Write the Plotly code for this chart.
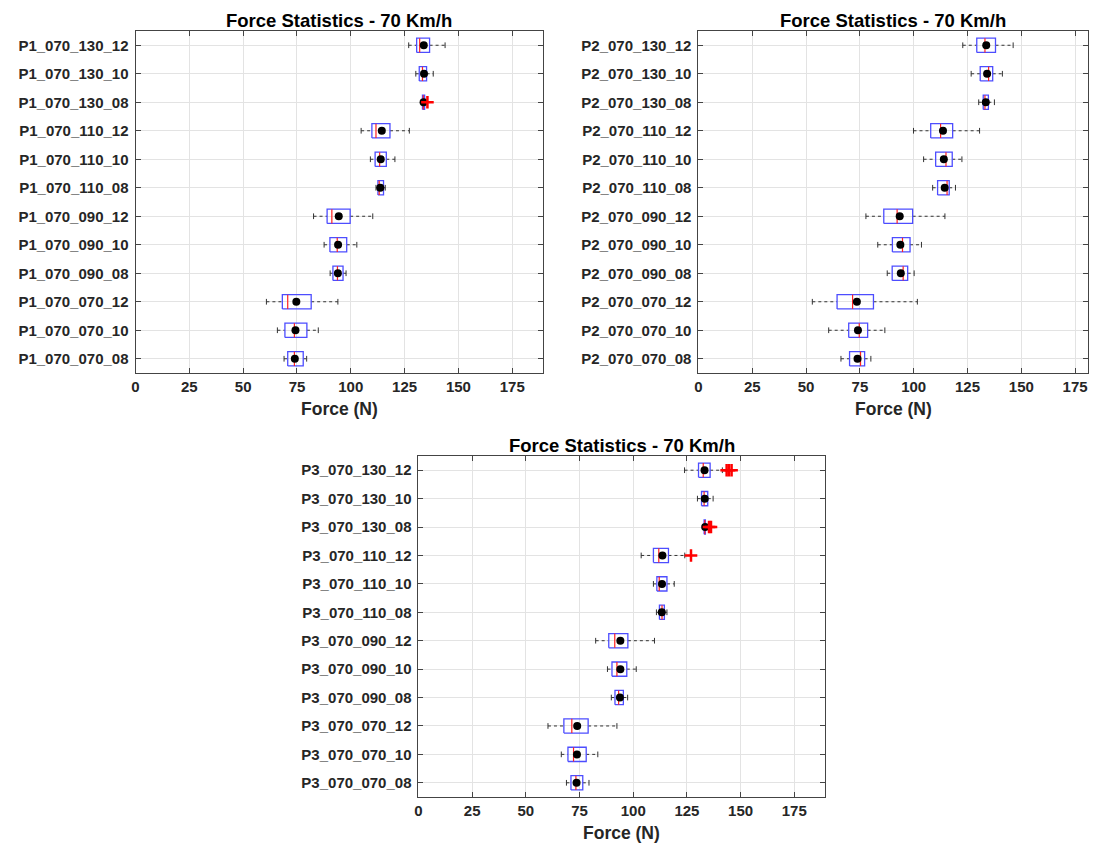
import plotly.graph_objects as go

# Categories, bottom to top
conditions = ["070_070_08", "070_070_10", "070_070_12",
              "070_090_08", "070_090_10", "070_090_12",
              "070_110_08", "070_110_10", "070_110_12",
              "070_130_08", "070_130_10", "070_130_12"]
x_ticks = [0, 25, 50, 75, 100, 125, 150, 175]

# ---- P1 ----
p1_low = [69.0, 65.9, 60.8, 90.4, 87.6, 82.7, 111.7, 109.1, 104.8, 133.1, 130.2, 126.9]
p1_q1 = [70.7, 69.4, 68.2, 91.7, 90.3, 89.0, 112.6, 111.3, 109.8, 133.3, 131.8, 130.6]
p1_med = [73.8, 73.8, 70.7, 93.8, 93.7, 91.2, 113.2, 113.4, 111.7, 133.7, 133.3, 132.0]
p1_q3 = [77.9, 79.6, 81.6, 96.4, 98.1, 99.7, 115.2, 116.5, 118.2, 134.3, 135.2, 136.6]
p1_high = [79.5, 84.9, 94.0, 97.8, 102.8, 110.2, 116.0, 120.5, 127.2, 134.5, 138.3, 143.8]
p1_mean = [74.0, 74.3, 74.7, 94.0, 94.1, 94.4, 113.7, 113.9, 114.4, 133.8, 134.0, 133.9]
p1_out = [[], [], [], [], [], [], [], [], [], [135.6], [], []]

# ---- P2 ----
p2_low = [66.2, 60.5, 52.9, 87.7, 83.3, 77.8, 108.8, 104.6, 99.9, 130.2, 126.7, 122.8]
p2_q1 = [70.2, 69.8, 64.4, 90.0, 90.1, 86.1, 111.1, 110.2, 107.9, 132.3, 130.9, 129.3]
p2_med = [75.3, 74.7, 71.6, 95.1, 94.8, 92.3, 115.5, 115.0, 112.5, 133.1, 134.8, 133.1]
p2_q3 = [77.2, 78.6, 81.3, 97.2, 98.3, 99.5, 116.5, 117.9, 118.1, 134.7, 136.7, 138.0]
p2_high = [80.1, 86.6, 101.7, 100.2, 103.6, 114.5, 119.4, 122.4, 130.6, 137.5, 141.2, 146.2]
p2_mean = [73.9, 74.1, 73.6, 94.0, 93.8, 93.5, 114.4, 114.0, 113.6, 133.5, 134.1, 133.7]
p2_out = [[], [], [], [], [], [], [], [], [], [], [], []]

# ---- P3 ----
p3_low = [68.9, 66.5, 60.3, 89.8, 88.0, 82.5, 110.8, 109.4, 103.7, 132.5, 129.9, 123.9]
p3_q1 = [71.0, 69.6, 67.7, 91.5, 90.1, 88.6, 112.2, 111.0, 109.4, 133.0, 131.8, 130.4]
p3_med = [73.3, 72.2, 71.4, 93.2, 92.4, 91.4, 113.4, 112.1, 111.9, 133.3, 133.0, 132.6]
p3_q3 = [76.5, 78.1, 79.0, 95.4, 97.0, 97.5, 114.5, 115.7, 116.4, 133.6, 134.7, 135.8]
p3_high = [79.4, 83.5, 92.4, 97.4, 101.4, 109.9, 115.7, 119.1, 124.0, 134.6, 137.2, 141.5]
p3_mean = [73.6, 73.8, 73.9, 93.8, 94.0, 94.0, 113.3, 113.4, 113.6, 133.5, 133.3, 133.2]
p3_out = [[], [], [], [], [], [], [], [], [126.9], [135.3, 136.2], [], [143.5, 144.6, 145.8]]

panels = [
    ("P1", p1_low, p1_q1, p1_med, p1_q3, p1_high, p1_mean, p1_out),
    ("P2", p2_low, p2_q1, p2_med, p2_q3, p2_high, p2_mean, p2_out),
    ("P3", p3_low, p3_q1, p3_med, p3_q3, p3_high, p3_mean, p3_out),
]

W, H = 1100, 844
# pixel geometry of each panel: (left, right, top, bottom, xmax)
geom = [(132, 541, 31, 373, 189.3), (697, 1088, 31, 373, 181.0), (416, 824, 456, 797, 189.3)]

BOX_H = 0.25
CAP_H = 0.1
fig = go.Figure()
font_family = "Arial, Liberation Sans, sans-serif"

for k, (pname, lo, q1, med, q3, hi, mean, outs) in enumerate(panels):
    xa = "x" if k == 0 else f"x{k+1}"
    ya = "y" if k == 0 else f"y{k+1}"
    wx, wy, cx, cy, bx, by, mx, my, ox, oy = [], [], [], [], [], [], [], [], [], []
    for i in range(len(conditions)):
        wx += [lo[i], q1[i], None, q3[i], hi[i], None]
        wy += [i, i, None, i, i, None]
        cx += [lo[i], lo[i], None, hi[i], hi[i], None]
        cy += [i - CAP_H, i + CAP_H, None, i - CAP_H, i + CAP_H, None]
        bx += [q1[i], q3[i], q3[i], q1[i], q1[i], None]
        by += [i - BOX_H, i - BOX_H, i + BOX_H, i + BOX_H, i - BOX_H, None]
        mx += [med[i], med[i], None]
        my += [i - BOX_H, i + BOX_H, None]
        for o in outs[i]:
            ox.append(o)
            oy.append(i)
    fig.add_trace(go.Scatter(x=wx, y=wy, mode="lines", xaxis=xa, yaxis=ya,
                             line=dict(color="#333333", width=1, dash="3px,3px"),
                             showlegend=False, hoverinfo="skip"))
    fig.add_trace(go.Scatter(x=cx, y=cy, mode="lines", xaxis=xa, yaxis=ya,
                             line=dict(color="#333333", width=1),
                             showlegend=False, hoverinfo="skip"))
    fig.add_trace(go.Scatter(x=bx, y=by, mode="lines", xaxis=xa, yaxis=ya,
                             line=dict(color="#4d4dff", width=1.3),
                             showlegend=False, hoverinfo="skip"))
    fig.add_trace(go.Scatter(x=mx, y=my, mode="lines", xaxis=xa, yaxis=ya,
                             line=dict(color="#ff2020", width=1.2),
                             showlegend=False, hoverinfo="skip"))
    fig.add_trace(go.Scatter(x=mean, y=list(range(len(conditions))), mode="markers",
                             xaxis=xa, yaxis=ya,
                             marker=dict(color="black", size=8),
                             showlegend=False))
    if ox:
        fig.add_trace(go.Scatter(x=ox, y=oy, mode="markers", xaxis=xa, yaxis=ya,
                                 marker=dict(symbol="cross-thin", size=9, color="red",
                                             line=dict(color="red", width=2.5)),
                                 showlegend=False))

    left, right, top, bottom, xmax = geom[k]
    xkey = "xaxis" if k == 0 else f"xaxis{k+1}"
    ykey = "yaxis" if k == 0 else f"yaxis{k+1}"
    axis_common = dict(showline=True, linecolor="#444444", linewidth=1, mirror="ticks",
                       ticks="inside", ticklen=5, tickcolor="#444444",
                       showgrid=True, gridcolor="#e3e3e3", gridwidth=1, zeroline=False,
                       tickfont=dict(family=font_family, size=15, color="#262626", weight="bold"))
    fig.update_layout(**{
        xkey: dict(domain=[left / W, right / W], anchor=ya, range=[0, xmax],
                   tickvals=x_ticks, ticktext=[str(t) for t in x_ticks], **axis_common),
        ykey: dict(domain=[1 - bottom / H, 1 - top / H], anchor=xa, range=[-0.5, 11.5],
                   tickvals=list(range(len(conditions))), ticklabelstandoff=3,
                   ticktext=[f"{pname}_{c}" for c in conditions], **axis_common),
    })
    cxp = (left + right) / 2 / W
    fig.add_annotation(text="Force Statistics - 70 Km/h", xref="paper", yref="paper",
                       x=cxp, y=1 - (top - 11) / H, xanchor="center", yanchor="middle",
                       showarrow=False,
                       font=dict(family=font_family, size=18.5, color="black", weight="bold"))
    fig.add_annotation(text="Force (N)", xref="paper", yref="paper",
                       x=cxp, y=1 - (bottom + 36) / H, xanchor="center", yanchor="middle",
                       showarrow=False,
                       font=dict(family=font_family, size=17.5, color="#262626", weight="bold"))

fig.update_layout(width=W, height=H, margin=dict(l=0, r=0, t=0, b=0),
                  paper_bgcolor="white", plot_bgcolor="white", showlegend=False)
fig.write_html("out.html")
